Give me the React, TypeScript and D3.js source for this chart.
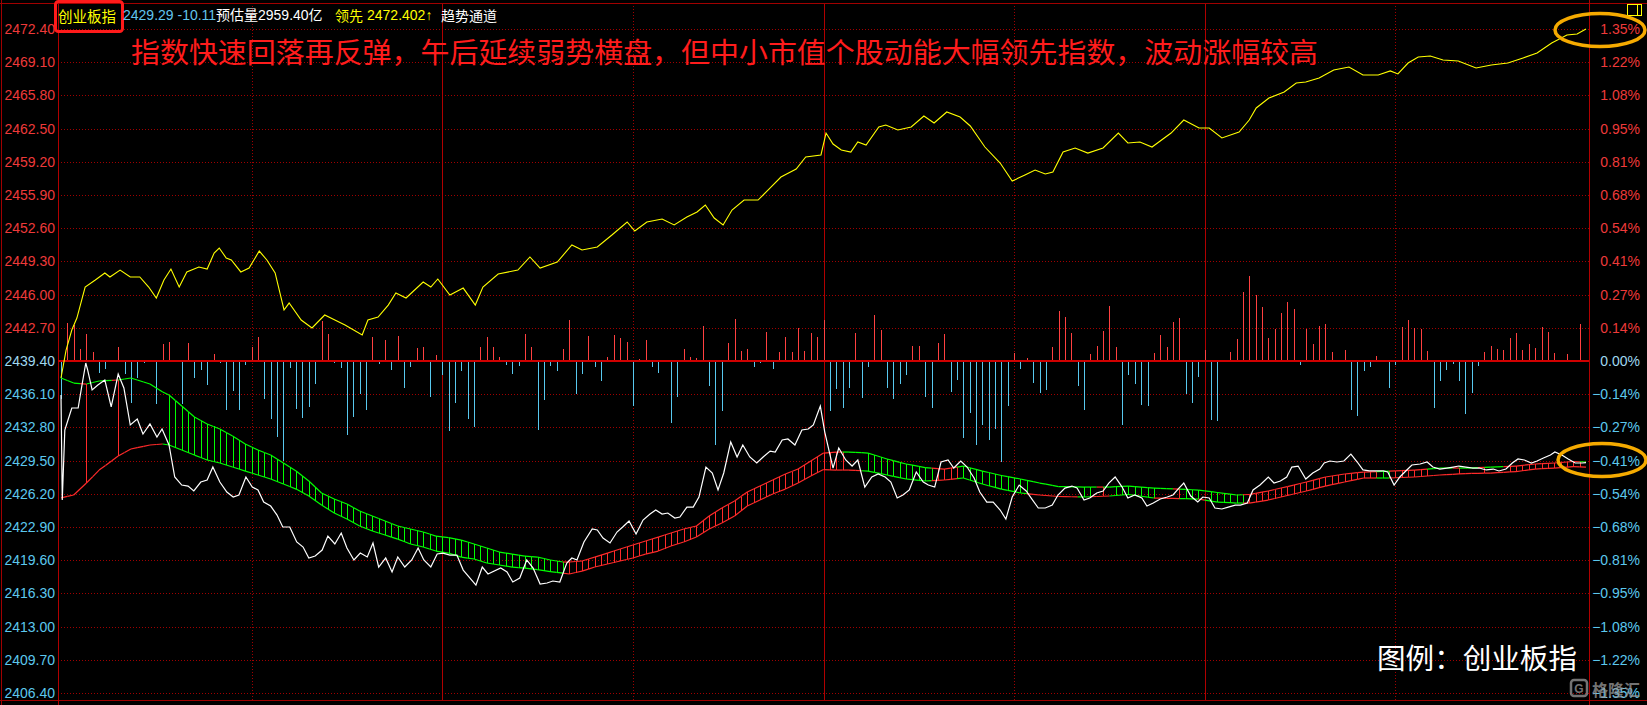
import React, { useEffect } from 'react';
import * as d3 from 'd3';

const WIDTH = 1647;
const HEIGHT = 705;

// ---- header / text content ----
const indexName = '创业板指';
const lastPrice = 2429.29;
const priceChange = -10.11;
const estimatedVolume = '2959.40亿';
const leadLabel = '领先';
const leadValue = 2472.402;
const channelLabel = '趋势通道';
const headline = '指数快速回落再反弹，午后延续弱势横盘，但中小市值个股动能大幅领先指数，波动涨幅较高';
const legendText = '图例：创业板指';
const watermark = '格隆汇';

// ---- axes ----
const prevClose = 2439.4;
const priceTicks = [2472.40, 2469.10, 2465.80, 2462.50, 2459.20, 2455.90, 2452.60, 2449.30, 2446.00, 2442.70,
  2439.40, 2436.10, 2432.80, 2429.50, 2426.20, 2422.90, 2419.60, 2416.30, 2413.00, 2409.70, 2406.40];
const gridMinutes = [30, 60, 90, 120, 150, 180, 210];
const solidGridMinutes = [60, 120, 180];

// ---- index (white) line: [minute, price] ----
const indexLine: [number, number][] = [
[0,2436.02],[0.2,2425.58],[0.6,2432.54],[1.1,2433.53],[1.7,2434.73],[2.7,2434.73],[3.3,2437.01],[3.9,2439.2],[4.2,2438.5],[4.9,2436.52],[5.8,2437.01],[6.9,2437.51],[7.9,2434.83],[9.0,2438.1],[9.9,2436.72],[10.9,2433.04],[12.0,2433.63],[12.9,2432.14],[14.0,2433.14],[15.1,2431.85],[15.9,2432.64],[17.0,2431.05],[17.9,2427.87],[19.0,2427.07],[20.0,2426.97],[20.9,2426.48],[22.0,2427.37],[23.0,2427.57],[23.9,2428.86],[25.0,2427.37],[26.1,2426.38],[27.1,2425.88],[28.0,2426.08],[29.1,2427.87],[30.1,2426.87],[31.0,2426.58],[31.9,2425.38],[33.0,2424.98],[34.0,2424.09],[34.9,2422.9],[36.0,2422.9],[37.1,2421.41],[38.1,2420.91],[39.0,2419.82],[40.0,2420.02],[41.1,2420.61],[42.0,2422.0],[43.1,2421.21],[44.1,2422.3],[45.0,2420.81],[46.1,2419.62],[47.1,2420.31],[48.2,2419.92],[49.1,2421.31],[50.0,2418.92],[51.1,2419.82],[52.1,2418.43],[53.0,2419.92],[54.1,2418.92],[55.2,2419.62],[56.2,2420.81],[57.1,2419.62],[58.2,2418.92],[59.2,2420.22],[60.1,2420.31],[61.2,2420.11],[62.3,2420.11],[63.3,2418.62],[65.3,2417.13],[66.3,2418.92],[67.2,2418.23],[69.2,2418.82],[70.2,2418.43],[71.1,2417.43],[72.2,2417.83],[73.3,2419.62],[74.3,2418.82],[75.4,2417.23],[76.5,2417.33],[77.4,2417.53],[78.5,2417.43],[79.6,2419.32],[80.4,2419.82],[81.2,2419.62],[82.3,2421.41],[83.6,2422.7],[84.4,2422.6],[85.3,2421.8],[86.4,2421.31],[87.5,2422.4],[88.4,2422.9],[89.4,2423.49],[90.5,2422.2],[91.6,2423.59],[92.7,2424.19],[93.6,2424.59],[94.6,2424.19],[95.5,2424.29],[96.6,2423.79],[97.4,2423.89],[98.5,2424.88],[99.5,2424.88],[100.4,2425.88],[101.5,2428.86],[102.5,2428.27],[103.4,2426.58],[104.3,2428.27],[105.4,2431.35],[106.4,2429.86],[107.3,2431.05],[108.4,2429.86],[109.5,2429.26],[110.5,2429.86],[111.6,2430.45],[112.4,2430.35],[113.5,2431.55],[114.4,2431.65],[115.5,2431.05],[116.6,2432.54],[117.6,2432.64],[118.4,2433.04],[119.5,2434.92],[120.2,2432.34],[121.5,2428.76],[122.4,2430.75],[123.5,2429.56],[124.5,2428.96],[125.4,2429.56],[126.5,2426.87],[127.6,2427.87],[128.6,2428.17],[129.7,2427.87],[130.6,2427.37],[131.6,2425.78],[132.5,2426.08],[133.5,2426.58],[134.6,2428.37],[135.7,2427.37],[136.5,2427.07],[137.5,2426.87],[138.5,2429.36],[139.6,2429.56],[140.5,2428.76],[141.6,2429.46],[142.6,2428.86],[143.7,2427.77],[144.6,2426.38],[145.7,2425.38],[146.7,2425.38],[147.8,2424.59],[148.7,2423.69],[149.7,2425.88],[150.8,2427.07],[151.9,2426.48],[152.8,2425.68],[153.8,2424.79],[154.9,2424.79],[156.0,2425.08],[156.9,2426.08],[158.0,2426.77],[159.1,2426.97],[159.9,2426.77],[161.0,2425.58],[161.9,2425.78],[163.0,2426.28],[164.0,2426.48],[164.9,2427.27],[165.9,2427.87],[167.0,2426.87],[167.9,2425.78],[169.0,2426.08],[170.1,2425.78],[170.9,2424.98],[171.9,2425.28],[173.0,2425.68],[174.1,2425.88],[175.0,2426.08],[175.8,2426.67],[176.7,2427.27],[177.8,2425.98],[178.9,2425.38],[179.7,2425.88],[180.7,2425.78],[181.6,2424.79],[182.7,2424.69],[183.7,2424.88],[184.8,2425.08],[185.6,2425.08],[186.7,2425.28],[187.6,2426.58],[188.7,2427.07],[190.0,2427.87],[190.9,2427.27],[191.9,2427.47],[192.9,2427.87],[193.7,2428.86],[194.7,2428.96],[195.9,2427.67],[197.0,2428.27],[198.1,2428.66],[198.8,2429.26],[199.7,2429.46],[200.8,2429.36],[201.9,2429.46],[203.0,2430.15],[204.0,2429.36],[204.9,2428.57],[205.9,2428.47],[207.1,2428.47],[208.1,2428.47],[208.8,2428.37],[209.8,2427.07],[210.7,2427.87],[211.8,2428.57],[212.6,2429.06],[213.9,2429.16],[215.0,2429.36],[215.9,2428.86],[217.0,2428.66],[218.1,2428.76],[219.1,2428.86],[220.0,2428.96],[221.1,2428.86],[222.2,2428.76],[223.2,2428.76],[224.3,2428.57],[225.4,2428.66],[226.3,2428.47],[227.4,2428.66],[228.4,2429.26],[229.3,2429.66],[230.3,2429.56],[231.4,2429.26],[232.3,2429.46],[233.3,2429.76],[234.4,2430.05],[235.1,2430.35],[236.2,2430.05],[237.2,2429.66],[238.3,2429.26],[239.4,2429.26],[240,2429.29]
];

// ---- leading indicator (yellow) line: [minute, price] ----
const leadLine: [number, number][] = [
[0,2437.71],[0.8,2440.49],[1.7,2442.48],[2.5,2443.67],[3.8,2446.75],[5.4,2447.45],[6.9,2448.15],[7.7,2447.75],[9.3,2448.44],[10.9,2447.75],[12.4,2447.75],[13.8,2446.75],[15.0,2445.66],[16.2,2447.45],[17.3,2448.54],[18.6,2446.75],[19.8,2448.25],[21.7,2448.74],[23.0,2448.54],[24.1,2450.13],[24.9,2450.63],[26.0,2449.64],[26.8,2449.44],[28.3,2448.25],[29.6,2448.64],[31.2,2450.33],[32.4,2449.44],[33.7,2448.15],[35.1,2444.47],[35.9,2445.16],[37.8,2443.47],[39.5,2442.68],[41.5,2443.97],[43.1,2443.47],[44.7,2442.98],[47.4,2441.98],[48.3,2443.47],[49.9,2443.77],[51.5,2444.96],[52.7,2446.16],[54.3,2445.66],[57.0,2447.25],[58.2,2446.75],[59.3,2447.55],[61.2,2445.96],[63.3,2446.65],[65.2,2444.96],[66.4,2446.75],[68.8,2448.05],[71.9,2448.44],[73.8,2449.74],[75.4,2448.64],[78.1,2449.24],[80.4,2450.93],[82.0,2450.43],[84.4,2450.73],[86.7,2451.92],[89.1,2453.22],[90.3,2452.32],[92.2,2453.22],[94.6,2453.51],[96.5,2452.92],[98.5,2453.71],[100.1,2454.21],[101.4,2454.9],[102.8,2453.61],[104.2,2452.92],[105.6,2454.41],[107.5,2455.4],[109.7,2455.4],[111.3,2456.4],[113.3,2457.69],[115.7,2458.48],[117.2,2459.68],[119.6,2459.88],[120.4,2462.06],[121.5,2460.97],[122.8,2460.37],[124.3,2460.17],[125.4,2461.17],[126.7,2460.87],[128.7,2462.66],[129.8,2462.86],[131.7,2462.36],[133.8,2462.66],[135.8,2463.75],[137.4,2463.06],[139.4,2464.15],[141.5,2463.65],[143.1,2462.76],[145.4,2460.67],[147.8,2459.08],[149.7,2457.29],[151.7,2457.89],[153.3,2458.38],[154.9,2457.99],[156.1,2458.18],[157.7,2460.17],[159.6,2460.57],[161.6,2460.07],[164.0,2460.57],[166.4,2462.06],[167.9,2461.07],[169.8,2461.17],[171.7,2460.67],[174.7,2462.06],[176.7,2463.35],[179.1,2462.56],[180.7,2462.56],[182.7,2461.57],[185.4,2462.16],[187.0,2463.35],[188.1,2464.55],[190.1,2465.54],[192.5,2466.14],[194.4,2467.03],[195.9,2467.13],[198.0,2467.53],[200.3,2468.32],[202.7,2468.62],[204.9,2467.83],[207.3,2467.83],[209.2,2468.23],[210.4,2467.93],[212.0,2469.02],[213.6,2469.62],[215.5,2469.72],[217.5,2469.32],[219.9,2469.22],[222.7,2468.52],[225.1,2468.82],[227.7,2469.02],[230.1,2469.52],[232.3,2470.01],[234.6,2471.01],[237.0,2471.8],[238.6,2471.9],[240,2472.4]
];

// ---- trend channel ----
const channelMinutes = [0,2,4,6,9,11,14,16,17,19,21,23,25,27,29,31,33,35,37,39,41,43,45,47,49,51,53,55,57,59,61,63,65,67,69,71,73,75,77,79,80,82,84,86,88,90,92,94,96,98,100,102,104,106,108,110,112,114,116,118,120,122,124,127,130,133,136,139,142,145,148,151,154,157,161,165,168,172,176,179,182,185,187,190,193,196,199,202,205,209,213,217,221,225,229,232,235,238,240];
const channelUpper = [2437.71,2437.21,2437.11,2437.41,2437.51,2437.71,2437.11,2436.32,2436.02,2434.92,2433.83,2433.14,2432.64,2431.94,2431.15,2430.55,2430.05,2429.26,2428.46,2427.47,2426.28,2425.68,2425.18,2424.49,2423.99,2423.49,2423.0,2422.7,2422.4,2422.0,2421.85,2421.6,2421.21,2420.81,2420.41,2420.21,2420.01,2419.91,2419.62,2419.42,2419.42,2419.52,2419.91,2420.31,2420.71,2421.11,2421.51,2421.9,2422.3,2422.7,2423.0,2423.99,2424.79,2425.48,2426.38,2426.97,2427.57,2428.17,2428.66,2429.46,2430.25,2430.35,2430.35,2430.25,2429.66,2429.16,2428.81,2428.66,2428.96,2428.46,2428.02,2427.67,2427.27,2426.92,2426.87,2426.87,2426.97,2426.77,2426.67,2426.57,2426.33,2426.08,2426.13,2426.48,2426.92,2427.37,2427.87,2428.17,2428.36,2428.46,2428.56,2428.76,2428.76,2428.86,2428.96,2429.16,2429.26,2429.41,2429.36];
const channelLower = [2425.8,2426.08,2427.27,2428.56,2429.95,2430.65,2431.05,2431.15,2431.05,2430.55,2430.05,2429.56,2429.26,2428.86,2428.46,2428.07,2427.67,2427.17,2426.67,2425.98,2425.08,2424.29,2423.69,2423.0,2422.5,2422.1,2421.7,2421.21,2420.91,2420.51,2420.31,2419.91,2419.72,2419.32,2419.12,2418.92,2418.82,2418.67,2418.47,2418.32,2418.23,2418.52,2418.92,2419.22,2419.52,2419.82,2420.21,2420.51,2421.01,2421.41,2421.9,2422.7,2423.29,2423.99,2424.98,2425.58,2426.18,2426.67,2427.27,2427.97,2428.61,2428.56,2428.56,2428.46,2428.07,2427.67,2427.47,2427.57,2427.77,2427.17,2426.67,2426.28,2426.08,2425.93,2425.88,2425.98,2426.13,2425.78,2425.73,2425.68,2425.38,2425.28,2425.28,2425.58,2426.03,2426.48,2426.97,2427.37,2427.77,2427.77,2427.87,2428.07,2428.21,2428.26,2428.41,2428.66,2428.76,2428.91,2428.86];
// n = no hatch, g = falling (green) hatch, r = rising (red) hatch
const channelStates: [number, number, string][] = [[0,3,'n'],[4,4,'r'],[5,8,'n'],[9,9,'r'],[10,16,'n'],[17,79,'g'],[80,123,'r'],[124,126,'n'],[127,137,'g'],[138,141,'r'],[142,152,'g'],[153,160,'n'],[161,162,'g'],[163,163,'n'],[164,164,'r'],[165,165,'n'],[166,172,'g'],[173,175,'n'],[176,176,'r'],[177,179,'g'],[180,180,'n'],[181,186,'g'],[187,207,'r'],[208,209,'g'],[210,215,'r'],[216,219,'n'],[220,220,'r'],[221,223,'n'],[224,224,'r'],[225,227,'n'],[228,239,'r'],[240,240,'n']];

// ---- per-minute flow bars (up = red, down = cyan) ----
const flowBars = [
-38,38,36,12,27,9,-12,-8,0,14,
-13,-42,-17,-2,0,-43,17,19,0,-43,
18,-17,-9,-24,7,-2,-49,-30,-49,-4,
14,24,-38,-58,-76,-100,-7,-48,-57,-46,
-23,40,27,-2,-7,-74,-56,-33,-49,24,
-3,21,-9,25,-27,-6,13,14,-36,6,
-14,-70,-42,-10,-58,-66,14,24,14,4,
-4,-13,-5,27,14,-69,-39,-5,-10,12,
41,-33,-13,25,-6,-20,4,26,23,19,
-45,2,21,-6,-12,1,-62,-36,12,4,
3,35,-25,-84,-50,18,42,10,12,-6,
-2,29,-8,9,24,9,33,10,28,24,
41,-50,-28,-47,-27,28,-37,-6,46,31,
-27,-38,-23,-14,15,15,-36,-47,18,27,
-31,-19,-77,-52,-84,-64,-79,-68,-101,-45,
8,-8,3,-22,-32,-29,14,50,44,28,
-25,-49,7,15,30,55,14,-64,-14,-23,
-44,-45,8,26,14,39,43,-33,-42,-16,
11,-59,-60,1,9,22,69,85,66,54,
23,32,48,59,52,-4,32,17,35,37,
9,0,11,-49,-55,-10,-6,5,0,-27,
-4,34,41,33,32,10,-47,-20,-9,-3,
-20,-53,-32,-5,9,15,12,11,23,28,
11,17,13,34,29,8,1,7,0,37,
0
];

const RED = '#ff2a2a';
const GREEN = '#00ff00';
const GRID = '#a00000';
const LABEL_RED = '#ee3a3a';
const LABEL_CYAN = '#5cc8ee';
const BAR_RED = '#ff4040';
const BAR_CYAN = '#58c8ee';

export default function App() {
  useEffect(() => {
    document.body.style.margin = '0';
    document.body.style.background = '#000';
  }, []);

  const plotLeft = 58, plotRight = 1589, plotTop = 3, plotBottom = 700;
  const x = d3.scaleLinear().domain([0, 240]).range([61, 1586]);
  const y = d3.scaleLinear().domain([2406.4, 2472.4]).range([693, 29]);
  const y0 = y(prevClose);
  const vol = d3.scaleLinear().domain([0, 100]).range([y0, y0 - 100]);
  const line = d3.line<[number, number]>().x(d => x(d[0])).y(d => y(d[1]));
  const upper = d3.scaleLinear().domain(channelMinutes).range(channelUpper);
  const lower = d3.scaleLinear().domain(channelMinutes).range(channelLower);
  const stateAt = (m: number) => {
    for (const [a, b, s] of channelStates) if (m >= a && m <= b) return s;
    return 'n';
  };
  const minutes = d3.range(0, 241);
  const pct = (v: number) => {
    const p = (v - prevClose) / prevClose * 100;
    return (Math.abs(p) < 0.005 ? '0.00' : d3.format('.2f')(p)) + '%';
  };
  const labelColor = (v: number) => (v > prevClose + 0.001 ? LABEL_RED : v < prevClose - 0.001 ? LABEL_CYAN : '#9fd8f0');
  const px = (v: number) => Math.round(v) + 0.5;

  const numFont = '"Liberation Sans", Arial, "Noto Sans CJK SC", sans-serif';
  const cjkFont = '"Noto Sans CJK SC", "Liberation Sans", sans-serif';

  return (
    <svg width={WIDTH} height={HEIGHT} style={{ position: 'absolute', left: 0, top: 0, display: 'block', background: '#000' }}>
      <rect x={0} y={0} width={WIDTH} height={HEIGHT} fill="#000" />

      {/* horizontal dotted grid */}
      {priceTicks.map(t => (
        <line key={'h' + t} x1={plotLeft} x2={plotRight} y1={px(y(t))} y2={px(y(t))}
          stroke={GRID} strokeWidth={1} strokeDasharray="1 2" shapeRendering="crispEdges" />
      ))}
      {/* vertical grid */}
      {gridMinutes.map(m => (
        <line key={'v' + m} x1={px(x(m))} x2={px(x(m))} y1={plotTop} y2={plotBottom}
          stroke={solidGridMinutes.includes(m) ? '#b00000' : GRID} strokeWidth={1}
          strokeDasharray={solidGridMinutes.includes(m) ? undefined : '1 2'} shapeRendering="crispEdges" />
      ))}

      {/* frame */}
      <line x1={0} x2={WIDTH} y1={plotTop + 0.5} y2={plotTop + 0.5} stroke={GRID} strokeWidth={1} />
      <line x1={0} x2={WIDTH} y1={plotBottom + 0.5} y2={plotBottom + 0.5} stroke={GRID} strokeWidth={1} />
      <line x1={1.5} x2={1.5} y1={0} y2={HEIGHT} stroke={GRID} strokeWidth={1} />
      <line x1={plotLeft + 0.5} x2={plotLeft + 0.5} y1={0} y2={HEIGHT} stroke="#b00000" strokeWidth={1} />
      <line x1={plotRight + 0.5} x2={plotRight + 0.5} y1={0} y2={HEIGHT} stroke="#b00000" strokeWidth={1} />

      {/* flow bars */}
      {flowBars.map((v, i) => v === 0 ? null : (
        <line key={'b' + i} x1={px(x(i))} x2={px(x(i))} y1={y0} y2={vol(v)}
          stroke={v > 0 ? BAR_RED : BAR_CYAN} strokeWidth={1} shapeRendering="crispEdges" />
      ))}
      {/* zero (previous close) line */}
      <line x1={plotLeft} x2={plotRight} y1={y0} y2={y0} stroke="#d00000" strokeWidth={2} />

      {/* leading indicator */}
      <path d={line(leadLine) || ''} fill="none" stroke="#ffff00" strokeWidth={1.1} />

      {/* trend channel hatches */}
      {minutes.map(m => {
        const s = stateAt(m);
        if (s === 'n') return null;
        return (
          <line key={'hx' + m} x1={px(x(m))} x2={px(x(m))} y1={y(upper(m))} y2={y(lower(m))}
            stroke={s === 'r' ? RED : GREEN} strokeWidth={1} shapeRendering="crispEdges" />
        );
      })}
      {/* trend channel boundaries */}
      {minutes.slice(1).map(m => {
        const s = stateAt(m);
        return (
          <g key={'cs' + m}>
            <line x1={x(m - 1)} x2={x(m)} y1={y(upper(m - 1))} y2={y(upper(m))}
              stroke={s === 'r' ? RED : GREEN} strokeWidth={1.2} />
            <line x1={x(m - 1)} x2={x(m)} y1={y(lower(m - 1))} y2={y(lower(m))}
              stroke={s === 'g' ? GREEN : RED} strokeWidth={1.2} />
          </g>
        );
      })}

      {/* index line */}
      <path d={line(indexLine) || ''} fill="none" stroke="#ffffff" strokeWidth={1.2} />

      {/* left axis labels */}
      {priceTicks.map(t => (
        <text key={'l' + t} x={55} y={y(t)} dominantBaseline="central" textAnchor="end"
          fontFamily={numFont} fontSize={14} fill={labelColor(t)}>{t.toFixed(2)}</text>
      ))}
      {/* right axis labels */}
      {priceTicks.map(t => (
        <text key={'r' + t} x={1640} y={y(t)} dominantBaseline="central" textAnchor="end"
          fontFamily={numFont} fontSize={14} fill={labelColor(t)}>{pct(t)}</text>
      ))}

      {/* header */}
      <rect x={55.5} y={1.5} width={67} height={30} rx={3} fill="none" stroke="#ff1a1a" strokeWidth={3} />
      <text x={58} y={15} dominantBaseline="central" fontFamily={cjkFont} fontSize={14.5} fill="#ffff00">{indexName}</text>
      <text x={123} y={15} dominantBaseline="central" fontFamily={numFont} fontSize={14} fill="#62c4ee">
        {lastPrice.toFixed(2)} {priceChange.toFixed(2)}
      </text>
      <text x={216} y={15} dominantBaseline="central" fontFamily={numFont} fontSize={14} fill="#ffffff">
        {'预估量' + estimatedVolume}
      </text>
      <text x={335} y={15} dominantBaseline="central" fontFamily={cjkFont} fontSize={14} fill="#ffff00">{leadLabel}</text>
      <text x={367} y={15} dominantBaseline="central" fontFamily={numFont} fontSize={14} fill="#ffff00">{leadValue.toFixed(3) + '↑'}</text>
      <text x={441} y={15} dominantBaseline="central" fontFamily={cjkFont} fontSize={14} fill="#ffffff">{channelLabel}</text>

      {/* small window icon */}
      <rect x={1627.5} y={4.5} width={14} height={11} fill="none" stroke="#ffff00" strokeWidth={1} />
      <line x1={1637.5} x2={1637.5} y1={4.5} y2={15.5} stroke="#ffff00" strokeWidth={1} />

      {/* headline annotation */}
      <text x={131} y={51} dominantBaseline="central" fontFamily={cjkFont} fontSize={28}
        fill="#ff1c1c" textLength={1187} lengthAdjust="spacingAndGlyphs">{headline}</text>

      {/* highlight ovals */}
      <ellipse cx={1600} cy={30} rx={45} ry={16.5} fill="none" stroke="#f5aa00" strokeWidth={3.5} />
      <ellipse cx={1602} cy={460} rx={44} ry={16.5} fill="none" stroke="#f5aa00" strokeWidth={3.5} />

      {/* legend */}
      <text x={1377} y={657} dominantBaseline="central" fontFamily={cjkFont} fontSize={28}
        fill="#ffffff" textLength={200} lengthAdjust="spacingAndGlyphs">{legendText}</text>

      {/* watermark */}
      <g opacity={0.75}>
        <rect x={1571} y={680} width={16} height={16} rx={3} fill="none" stroke="#9a9a9a" strokeWidth={2.5} />
        <text x={1579} y={689} dominantBaseline="central" textAnchor="middle" fontFamily={numFont}
          fontWeight="bold" fontSize={12} fill="#9a9a9a">G</text>
        <text x={1592} y={689} dominantBaseline="central" fontFamily={cjkFont} fontWeight="bold"
          fontSize={16} fill="#9a9a9a">{watermark}</text>
      </g>
    </svg>
  );
}
